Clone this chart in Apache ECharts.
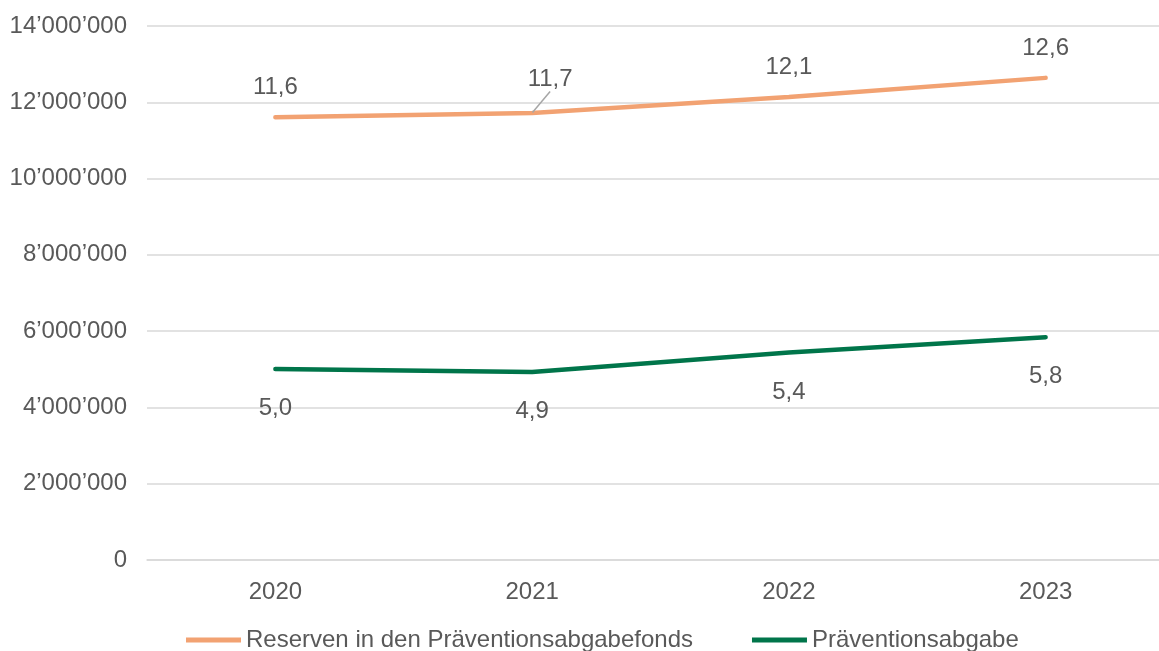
<!DOCTYPE html>
<html>
<head>
<meta charset="utf-8">
<script src="https://cdn.jsdelivr.net/npm/echarts@6/dist/echarts.min.js"></script>
<style>
  html, body { margin: 0; padding: 0; background: #fff; }
  #chart { width: 1159px; height: 651px; }
</style>
</head>
<body>
<div id="chart"></div>
<script>
var years = ["2020", "2021", "2022", "2023"];
var reserven = [11610000, 11720000, 12140000, 12640000];
var abgabe = [5010000, 4930000, 5440000, 5840000];
var names = ["Reserven in den Präventionsabgabefonds", "Präventionsabgabe"];

function fmtAxis(v) {
    //Tausendertrennzeichen mit ’
    return String(v).replace(/\B(?=(\d{3})+(?!\d))/g, "\u2019");
}

function fmtMio(p) {
    return (p.value / 1e6).toFixed(1).replace(".", ",");
}

var textColor = "#595959";
var font = "Liberation Sans, Arial, sans-serif";
var fs = 24;

// nur beim Wert 2021 eine Führungslinie
var reservenData = reserven.map(function (v, i) {
    if (i !== 1) return { value: v };
    return {
        value: v,
        labelLine: { show: true, lineStyle: { color: "#a6a6a6", width: 1.5 } }
    };
});

var myChart = echarts.init(document.getElementById("chart"));
var option = {
    animation: false,
    backgroundColor: "#FFFFFF",
    textStyle: { fontFamily: font },
    grid: {
        left: 147,
        width: 1027,
        top: 26,
        bottom: 91,
        outerBoundsMode: "none"
    },
    legend: {
        left: 186,
        top: 628,
        padding: 0,
        icon: "rect",
        itemWidth: 55,
        itemHeight: 5,
        itemGap: 59,
        textStyle: { color: textColor, fontSize: fs, fontFamily: font },
        data: names
    },
    xAxis: {
        type: "category",
        data: years,
        axisTick: { show: false },
        axisLine: { lineStyle: { color: "#d9d9d9", width: 1.5 } },
        axisLabel: { color: textColor, fontSize: fs, margin: 20, fontFamily: font }
    },
    yAxis: {
        type: "value",
        min: 0,
        max: 14000000,
        interval: 2000000,
        axisLine: { show: false },
        axisTick: { show: false },
        axisLabel: { color: textColor, fontSize: fs, margin: 20, fontFamily: font, formatter: fmtAxis },
        splitLine: { lineStyle: { color: "#d9d9d9", width: 1.5 } }
    },
    series: [{
        name: names[0],
        type: "line",
        data: reservenData,
        symbol: "circle",
        symbolSize: 1,
        lineStyle: { color: "#F2A272", width: 4.5, cap: "round" },
        itemStyle: { color: "#F2A272" },
        label: {
            show: true,
            position: "top",
            distance: 17,
            color: textColor,
            fontSize: fs,
            fontFamily: font,
            formatter: fmtMio
        },
        labelLine: { show: false },
        labelLayout: function (p) {
            return p.dataIndex === 1 ? { dx: 18, dy: -4 } : {};
        }
    }, {
        name: names[1],
        type: "line",
        data: abgabe,
        symbol: "circle",
        symbolSize: 1,
        lineStyle: { color: "#00754A", width: 4.5, cap: "round" },
        itemStyle: { color: "#00754A" },
        label: {
            show: true,
            position: "bottom",
            distance: 27,
            color: textColor,
            fontSize: fs,
            fontFamily: font,
            formatter: fmtMio
        }
    }]
};
myChart.setOption(option);
</script>
</body>
</html>
